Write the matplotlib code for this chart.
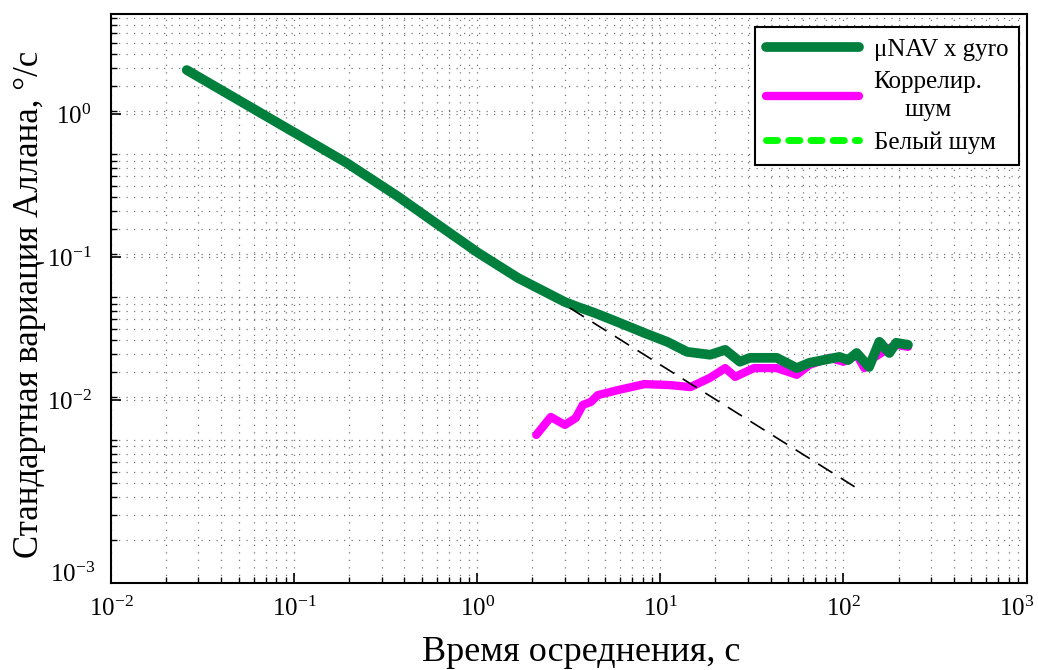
import numpy as np
import matplotlib
matplotlib.use('Agg')
import matplotlib.pyplot as plt
import matplotlib.transforms as mtransforms

plt.rcParams['font.family'] = ['Liberation Serif', 'DejaVu Serif']
plt.rcParams['mathtext.fontset'] = 'custom'
plt.rcParams['mathtext.rm'] = 'Liberation Serif'
plt.rcParams['mathtext.it'] = 'Liberation Serif:italic'

# Данные
tau_gyro = [0.0259, 0.194, 0.372, 0.562, 1.01, 1.67, 3.0, 3.54, 4.38, 5.83, 8.18,
            10.9, 14.0, 18.7, 22.6, 27.2, 30.8, 43.2, 55.6, 65.3, 95.1, 106,
            118, 138, 157, 178, 194, 225]
adev_gyro = [2.03, 0.454, 0.263, 0.181, 0.107, 0.0713, 0.0485, 0.0447, 0.0406,
             0.0351, 0.0294, 0.0255, 0.0217, 0.0207, 0.0224, 0.0185, 0.0197,
             0.0197, 0.0167, 0.0182, 0.0200, 0.0190, 0.0213, 0.0170, 0.0255,
             0.0213, 0.0251, 0.0243]

tau_corr = [2.10, 2.52, 3.01, 3.45, 3.77, 4.17, 4.55, 5.83, 8.18, 11.3, 14.6,
            18.7, 22.6, 25.6, 28.6, 32.5, 43.2, 55.6, 65.3, 84.0, 100, 118,
            130, 146, 171, 194, 225]
adev_corr = [0.00569, 0.00760, 0.00669, 0.00748, 0.00923, 0.00968, 0.0108,
             0.0117, 0.0129, 0.0127, 0.0123, 0.0143, 0.0167, 0.0145, 0.0155,
             0.0167, 0.0167, 0.0150, 0.0176, 0.0197, 0.0185, 0.0207, 0.0167,
             0.0197, 0.0224, 0.0243, 0.0235]

tau_white = [3.2, 115]
adev_white = [0.044, 0.00247]

fig = plt.figure(figsize=(10.38, 6.70), dpi=100)
ax = fig.add_axes([0.107, 0.130, 0.882, 0.849])

ax.plot(tau_gyro, adev_gyro, color='#00803c', lw=7, solid_capstyle='round',
        solid_joinstyle='round', label='μNAV x gyro', zorder=4)
ax.plot(tau_corr, adev_corr, color='#ff00ff', lw=6, solid_capstyle='round',
        solid_joinstyle='round', label='Коррелир.\nшум', zorder=3)
ax.plot(tau_white, adev_white, color='black', lw=1.2, dashes=(10, 6), zorder=5)
# линия только для легенды
ax.plot([], [], color='#00ff00', lw=5, dashes=(1.6, 1.6), dash_capstyle='round',
        label='Белый шум')

ax.set_xscale('log')
ax.set_yscale('log')
ax.set_xlim(1e-2, 1e3)
ax.set_ylim(5.25e-4, 5.0)

ax.set_xticks([1e-2, 1e-1, 1e0, 1e1, 1e2, 1e3])
ax.set_xticklabels(['$10^{-2}$', '$10^{-1}$', '$10^{0}$', '$10^{1}$', '$10^{2}$', '$10^{3}$'])
ax.xaxis.set_minor_locator(matplotlib.ticker.LogLocator(base=10, subs=np.arange(2, 10), numticks=20))
ax.xaxis.set_minor_formatter(matplotlib.ticker.NullFormatter())

ax.set_yticks([1e-2, 1e-1, 1e0])
ax.set_yticklabels(['$10^{-2}$', '$10^{-1}$', '$10^{0}$'])
yminor = [k * 10.0 ** (n - 0.28) for n in range(-3, 2) for k in range(1, 10)]
yminor = [v for v in yminor if 5.3e-4 < v < 4.99]
ax.set_yticks(yminor, minor=True)
ax.yaxis.set_minor_formatter(matplotlib.ticker.NullFormatter())

ax.tick_params(which='both', direction='in', labelsize=18, color='black')
ax.tick_params(which='major', length=7, width=1.2)
ax.tick_params(axis='y', which='major', pad=14)
ax.tick_params(axis='x', which='major', pad=10)
ax.tick_params(which='minor', length=4, width=1.0)

ax.text(-0.017, 0.014, '$10^{-3}$', transform=ax.transAxes, ha='right', va='center',
        fontsize=18)

# подпись 10^3 чуть левее, чтобы не обрезалась
last = ax.get_xticklabels()[-1]
last.set_transform(last.get_transform() + mtransforms.ScaledTranslation(-10 / 100, 0, fig.dpi_scale_trans))

ax.grid(True, which='both', color='#777777', linestyle=(0, (1, 5)), linewidth=0.9)

for s in ax.spines.values():
    s.set_linewidth(1.5)
    s.set_color('black')

ax.set_xlabel('Время осреднения, с', fontsize=26)
ax.set_ylabel('Стандартная вариация Аллана, °/с', fontsize=25)
ax.xaxis.set_label_coords(0.514, -0.093)
ax.yaxis.set_label_coords(-0.071, 0.49)

leg = ax.legend(loc='upper right', bbox_to_anchor=(0.992, 0.977), fontsize=18,
                handlelength=3.7, handletextpad=0.6, fancybox=False, framealpha=1,
                edgecolor='black', borderaxespad=0, labelspacing=0.42, borderpad=0.45)
leg.get_frame().set_linewidth(1.5)
for t in leg.get_texts():
    t.set_multialignment('center')
    t.set_linespacing(1.3)

fig.savefig('out.png', dpi=100)
